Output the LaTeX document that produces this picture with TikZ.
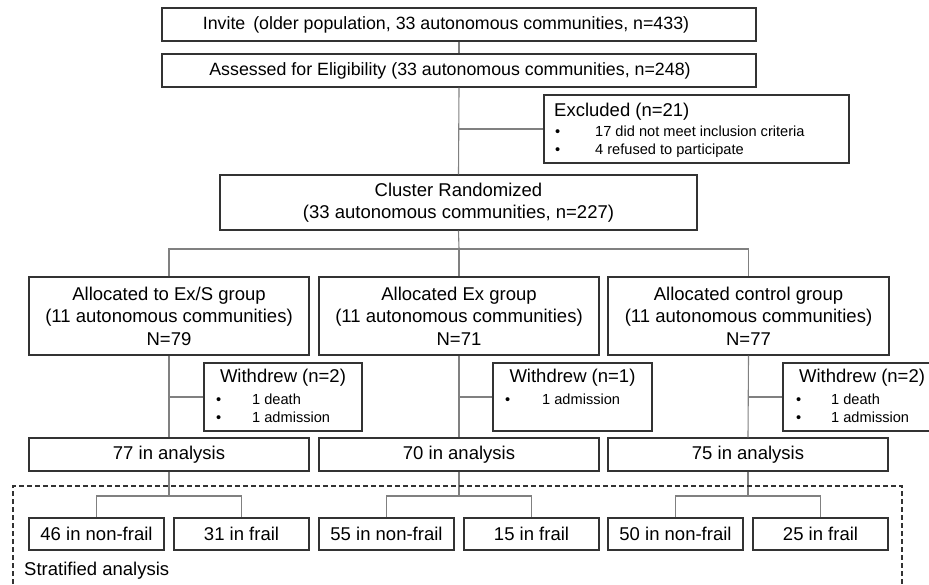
\documentclass[tikz,border=0pt]{standalone}
\usepackage{fontspec}
\setmainfont{Liberation Sans}
\usetikzlibrary{calc}
\definecolor{boxc}{HTML}{333333}
\definecolor{linec}{HTML}{808080}
\tikzset{
  box/.style={draw=boxc, line width=1.3pt, inner sep=0pt, align=center,
              font=\fontsize{18.5}{22.5}\selectfont},
  topbox/.style={box, minimum width=594pt, minimum height=33pt},
  grpbox/.style={box, minimum width=280pt, minimum height=78pt},
  wdbox/.style={box, minimum width=158pt, minimum height=68pt},
  anbox/.style={box, minimum width=280pt, minimum height=33pt},
  subbox/.style={box, minimum width=135pt, minimum height=32pt},
  conn/.style={draw=linec, line width=1.1pt},
  ttl/.style={inner sep=0pt, font=\fontsize{18.5}{22}\selectfont},
  toptxt/.style={inner sep=0pt, font=\fontsize{17.8}{22}\selectfont},
  bt/.style={inner sep=0pt, anchor=west, font=\fontsize{14.6}{17}\selectfont},
  bul/.style={inner sep=0pt, anchor=base west, font=\fontsize{14.6}{17}\selectfont},
}
\begin{document}
\begin{tikzpicture}[x=1pt,y=-1pt]
\useasboundingbox (0,0) rectangle (929,585);

% boxes
\node[topbox] (inv) at (459,24.5) {};
\node[toptxt] (invt) at (446,24.5) {Invite \,(older population, 33 autonomous communities, n=433)};
\node[topbox] (ass) at (459,70.5) {};
\node[toptxt] (asst) at (450,70.5) {Assessed for Eligibility (33 autonomous communities, n=248)};
\node[box, minimum width=305pt, minimum height=68pt] (exc) at (696.5,129) {};
\node[box, minimum width=477pt, minimum height=55pt] (clu) at (458.5,202.5) {Cluster Randomized\\(33 autonomous communities, n=227)};

\node[grpbox] (g1) at (169,316) {Allocated to Ex/S group\\(11 autonomous communities)\\N=79};
\node[grpbox] (g2) at (459,316) {Allocated Ex group\\(11 autonomous communities)\\N=71};
\node[grpbox, minimum width=281pt] (g3) at (748.5,316) {Allocated control group\\(11 autonomous communities)\\N=77};

\node[wdbox] (w1) at (283,397) {};
\node[wdbox, minimum width=159pt] (w2) at (572.5,397) {};
\node[wdbox] (w3) at (862,397) {};

\node[anbox] (a1) at (169,454.5) {77 in analysis};
\node[anbox] (a2) at (459,454.5) {70 in analysis};
\node[anbox] (a3) at (748,454.5) {75 in analysis};

\node[subbox] (s1) at (96.5,534) {46 in non-frail};
\node[subbox] (s2) at (241.5,534) {31 in frail};
\node[subbox] (s3) at (386.5,534) {55 in non-frail};
\node[subbox] (s4) at (531.5,534) {15 in frail};
\node[subbox] (s5) at (675.5,534) {50 in non-frail};
\node[subbox] (s6) at (820.5,534) {25 in frail};

% texts in excluded / withdrew boxes
\node[ttl, anchor=west] (exct) at (554,112) {Excluded (n=21)};
\node[bt, anchor=base west] (ext1) at (595,137) {17 did not meet inclusion criteria};
\node[bul] (exb1) at (555,137) {\textbullet};
\node[bt, anchor=base west] (ext2) at (595,155) {4 refused to participate};
\node[bul] (exb2) at (555,155) {\textbullet};

\node[ttl] (w1t) at (283,378) {Withdrew (n=2)};
\node[bt, anchor=base west] (w1t1) at (252,404) {1 death};
\node[bul] (w1b1) at (216,404) {\textbullet};
\node[bt, anchor=base west] (w1t2) at (252,422) {1 admission};
\node[bul] (w1b2) at (216,422) {\textbullet};

\node[ttl] (w2t) at (572.5,378) {Withdrew (n=1)};
\node[bt, anchor=base west] (w2t1) at (542,404) {1 admission};
\node[bul] (w2b1) at (505,404) {\textbullet};

\node[ttl] (w3t) at (862,378) {Withdrew (n=2)};
\node[bt, anchor=base west] (w3t1) at (831,404) {1 death};
\node[bul] (w3b1) at (796,404) {\textbullet};
\node[bt, anchor=base west] (w3t2) at (831,422) {1 admission};
\node[bul] (w3b2) at (796,422) {\textbullet};

% connectors
\coordinate (j0) at (459,129);
\coordinate (j1) at (459,249);
\draw[conn] (inv.south) -- (ass.north);
\draw[conn] (ass.south) -- (clu.north);
\draw[conn] (j0) -- (exc.west);
\draw[conn] (clu.south) -- (j1);
\draw[conn] (g1.north) -- (g1.north |- j1) -- (g3.north |- j1) -- (g3.north);
\draw[conn] (j1) -- (g2.north);

\foreach \g/\w/\a in {g1/w1/a1, g2/w2/a2, g3/w3/a3}{
  \draw[conn] (\g.south) -- (\a.north);
  \draw[conn] (\g.south |- \w.west) -- (\w.west);
}

\coordinate (k1) at (169,496);
\coordinate (k2) at (459,496);
\coordinate (k3) at (748,496);
\foreach \a/\k/\l/\r in {a1/k1/s1/s2, a2/k2/s3/s4, a3/k3/s5/s6}{
  \draw[conn] (\a.south) -- (\k);
  \draw[conn] (\l.north) -- (\l.north |- \k) -- (\r.north |- \k) -- (\r.north);
}

% stratified dashed frame
\draw[boxc, line width=1.1pt, dash pattern=on 5pt off 3pt]
  (13,600) -- (13,486) -- (902,486) -- (902,600);
\node[ttl, anchor=west] (strat) at (24,571) {Stratified analysis};
\end{tikzpicture}
\end{document}
